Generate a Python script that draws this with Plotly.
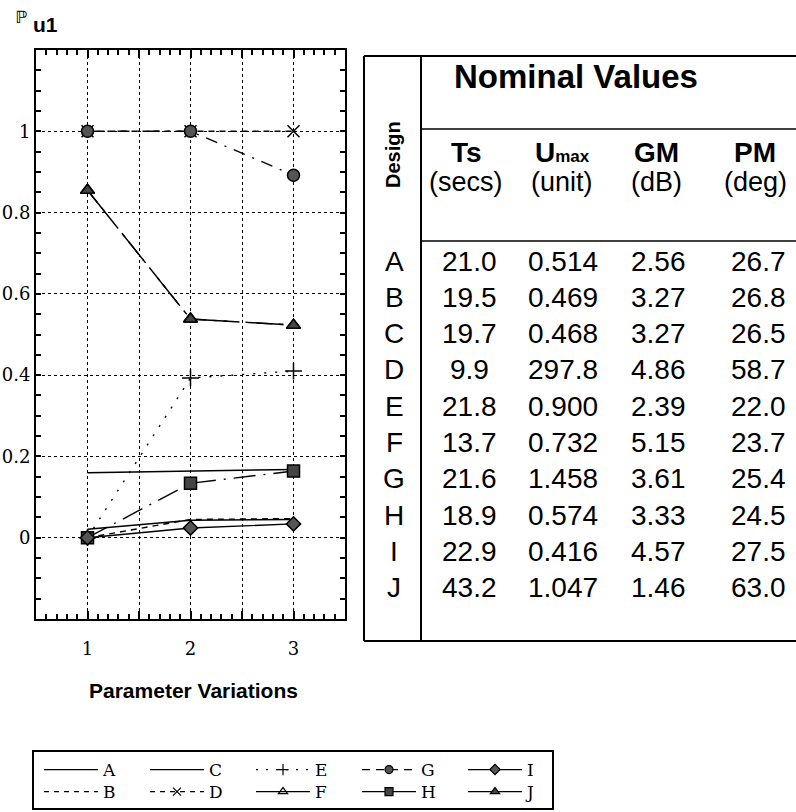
import plotly.graph_objects as go

W, H = 796, 812

# ---------------- data ----------------
x_vals = [1, 2, 3]
series_names = ["A", "B", "C", "D", "E", "F", "G", "H", "I", "J"]
A = [0.021, 0.043, 0.045]
B = [0.0, 0.045, 0.047]
C = [0.160, 0.164, 0.168]
D = [1.0, 1.0, 1.0]
E = [0.0, 0.393, 0.41]
F = [0.855, 0.538, 0.523]
G = [1.0, 1.0, 0.892]
Hs = [0.0, 0.134, 0.164]
I = [0.0, 0.024, 0.034]
J = [0.855, 0.538, 0.523]
series_values = [A, B, C, D, E, F, G, Hs, I, J]

y_tickvals = [-0.2, 0, 0.2, 0.4, 0.6, 0.8, 1.0, 1.2]
y_ticktext = ["", "0", "0.2", "0.4", "0.6", "0.8", "1", ""]
x_tickvals = [0.5, 1, 1.5, 2, 2.5, 3, 3.5]
x_ticktext = ["", "1", "", "2", "", "3", ""]

designs = ["A", "B", "C", "D", "E", "F", "G", "H", "I", "J"]
ts_vals = ["21.0", "19.5", "19.7", "9.9", "21.8", "13.7", "21.6", "18.9", "22.9", "43.2"]
umax_vals = ["0.514", "0.469", "0.468", "297.8", "0.900", "0.732", "1.458", "0.574", "0.416", "1.047"]
gm_vals = ["2.56", "3.27", "3.27", "4.86", "2.39", "5.15", "3.61", "3.33", "4.57", "1.46"]
pm_vals = ["26.7", "26.8", "26.5", "58.7", "22.0", "23.7", "25.4", "24.5", "27.5", "63.0"]
col_titles = ["Ts", "U<span style='font-size:17px'>max</span>", "GM", "PM"]
col_units = ["(secs)", "(unit)", "(dB)", "(deg)"]

# ---------------- styles ----------------
styles = {
    "A": dict(dash="solid", symbol=None, fill=None),
    "B": dict(dash="6px,5px", symbol=None, fill=None),
    "C": dict(dash="solid", symbol=None, fill=None),
    "D": dict(dash="6px,5px", symbol="x-thin-open", fill=None),
    "E": dict(dash="2px,9px", symbol="cross-thin-open", fill=None),
    "F": dict(dash="16px,6px,5px,6px", symbol="triangle-up-open", fill=None),
    "G": dict(dash="12px,8px,2px,8px", symbol="circle", fill="#555"),
    "H": dict(dash="22px,8px,2px,8px", symbol="square", fill="#444"),
    "I": dict(dash="solid", symbol="diamond", fill="#555"),
    "J": dict(dash="34px,22px", symbol="triangle-up", fill="#444"),
}
legend_dash = {
    "A": "solid", "B": "5px,5px", "C": "solid", "D": "5px,5px", "E": "2px,8px",
    "F": "solid", "G": "8px,6px", "H": "solid", "I": "solid", "J": "solid",
}
row1 = ["A", "C", "E", "G", "I"]

def px(x):
    return x / W

def py(y):
    return 1 - y / H

fig = go.Figure()
for name, vals in zip(series_names, series_values):
    st = styles[name]
    mode = "lines+markers" if st["symbol"] else "lines"
    marker = dict()
    if st["symbol"]:
        marker = dict(symbol=st["symbol"], size=12 if st["symbol"] != "diamond" else 11,
                      color=st["fill"] if st["fill"] else "black",
                      line=dict(color="black", width=1.5))
    fig.add_trace(go.Scatter(
        x=x_vals, y=vals, name=name, mode=mode,
        line=dict(color="black", width=1.4, dash=st["dash"]),
        marker=marker, showlegend=False,
    ))

# legend-only entries (smaller glyphs, as in the printed key)
for name in row1 + [n for n in series_names if n not in row1]:
    st = styles[name]
    mode = "lines+markers" if st["symbol"] else "lines"
    marker = dict()
    if st["symbol"]:
        marker = dict(symbol=st["symbol"], size=8,
                      color=st["fill"] if st["fill"] else "black",
                      line=dict(color="black", width=1.2))
    fig.add_trace(go.Scatter(
        x=[None], y=[None], name=name, mode=mode,
        line=dict(color="black", width=1.2, dash=legend_dash[name]),
        marker=marker, showlegend=True,
        legend="legend" if name in row1 else "legend2",
    ))

axis_font = dict(family="DejaVu Serif", size=18, color="black")
fig.update_xaxes(
    domain=[px(36), px(345)], range=[0.5, 3.5],
    tickvals=x_tickvals, ticktext=x_ticktext,
    ticks="inside", ticklen=8, tickwidth=1.5, tickcolor="black",
    minor=dict(dtick=0.1, tick0=0.5, ticks="inside", ticklen=5, tickcolor="black", showgrid=False),
    showline=True, linewidth=2, linecolor="black", mirror="allticks",
    showgrid=True, gridcolor="black", gridwidth=1, griddash="dot",
    zeroline=False, tickfont=axis_font, ticklabelstandoff=12,
)
fig.update_yaxes(
    domain=[py(619), py(50)], range=[-0.2, 1.2],
    tickvals=y_tickvals, ticktext=y_ticktext,
    ticks="inside", ticklen=5, tickwidth=1.5, tickcolor="black",
    minor=dict(dtick=0.05, tick0=0, ticks="inside", ticklen=5, tickcolor="black", showgrid=False),
    showline=True, linewidth=2, linecolor="black", mirror="allticks",
    showgrid=True, gridcolor="black", gridwidth=1, griddash="dot",
    zeroline=False, tickfont=axis_font, ticklabelstandoff=0,
)

shapes = []
def hline(x0, x1, y, w=2):
    shapes.append(dict(type="line", xref="paper", yref="paper", x0=px(x0), x1=px(x1),
                       y0=py(y), y1=py(y), line=dict(color="black", width=w)))
def vline(x, y0, y1, w=2):
    shapes.append(dict(type="line", xref="paper", yref="paper", x0=px(x), x1=px(x),
                       y0=py(y0), y1=py(y1), line=dict(color="black", width=w)))

# table frame
vline(364, 56, 641)
vline(421, 56, 641)
hline(364, 796, 56)
hline(421, 796, 129, 1.5)
hline(421, 796, 241, 1.5)
hline(364, 796, 641)
# legend box
shapes.append(dict(type="rect", xref="paper", yref="paper", x0=px(33), x1=px(553),
                   y0=py(809), y1=py(751), line=dict(color="black", width=2), fillcolor="rgba(0,0,0,0)"))

annotations = []
def text(x, y, s, size, bold=False, family="Liberation Sans", angle=0, xanchor="center"):
    annotations.append(dict(xref="paper", yref="paper", x=px(x), y=py(y), text=("<b>%s</b>" % s) if bold else s,
                            showarrow=False, xanchor=xanchor, yanchor="middle", textangle=angle,
                            font=dict(family=family, size=size, color="black")))

# title
text(13, 17, "ℙ", 17, family="DejaVu Sans", xanchor="left")
text(31, 25, "u1", 21, bold=True, family="Liberation Sans", xanchor="left")
# x axis title
text(193, 690, "Parameter Variations", 21, bold=True)

# table text
text(576, 76, "Nominal Values", 33, bold=True)
text(393, 155, "Design", 20, bold=True, angle=-90)
col_x = [466, 562, 656, 755]
for cx, t, u in zip(col_x, col_titles, col_units):
    text(cx, 152, t, 28, bold=True)
    text(cx, 182, u, 27)
row_y0, row_dy = 261, 36.3
columns = [ts_vals, umax_vals, gm_vals, pm_vals]
val_x = [469, 563, 658, 758]
for i, d in enumerate(designs):
    y = row_y0 + i * row_dy
    text(394, y, d, 28)
    for cx, col in zip(val_x, columns):
        text(cx, y, col[i], 28)

leg_common = dict(orientation="h", xanchor="left", yanchor="middle", bgcolor="rgba(0,0,0,0)",
                  borderwidth=0, entrywidth=37, entrywidthmode="pixels", itemwidth=54,
                  traceorder="normal",
                  font=dict(family="DejaVu Serif", size=17, color="black"))

fig.update_layout(
    width=W, height=H, margin=dict(l=0, r=0, t=0, b=0),
    paper_bgcolor="white", plot_bgcolor="white",
    showlegend=True,
    legend=dict(x=px(39), y=py(770), **leg_common),
    legend2=dict(x=px(39), y=py(792), **leg_common),
    shapes=shapes, annotations=annotations,
)

fig.write_html("out.html")
